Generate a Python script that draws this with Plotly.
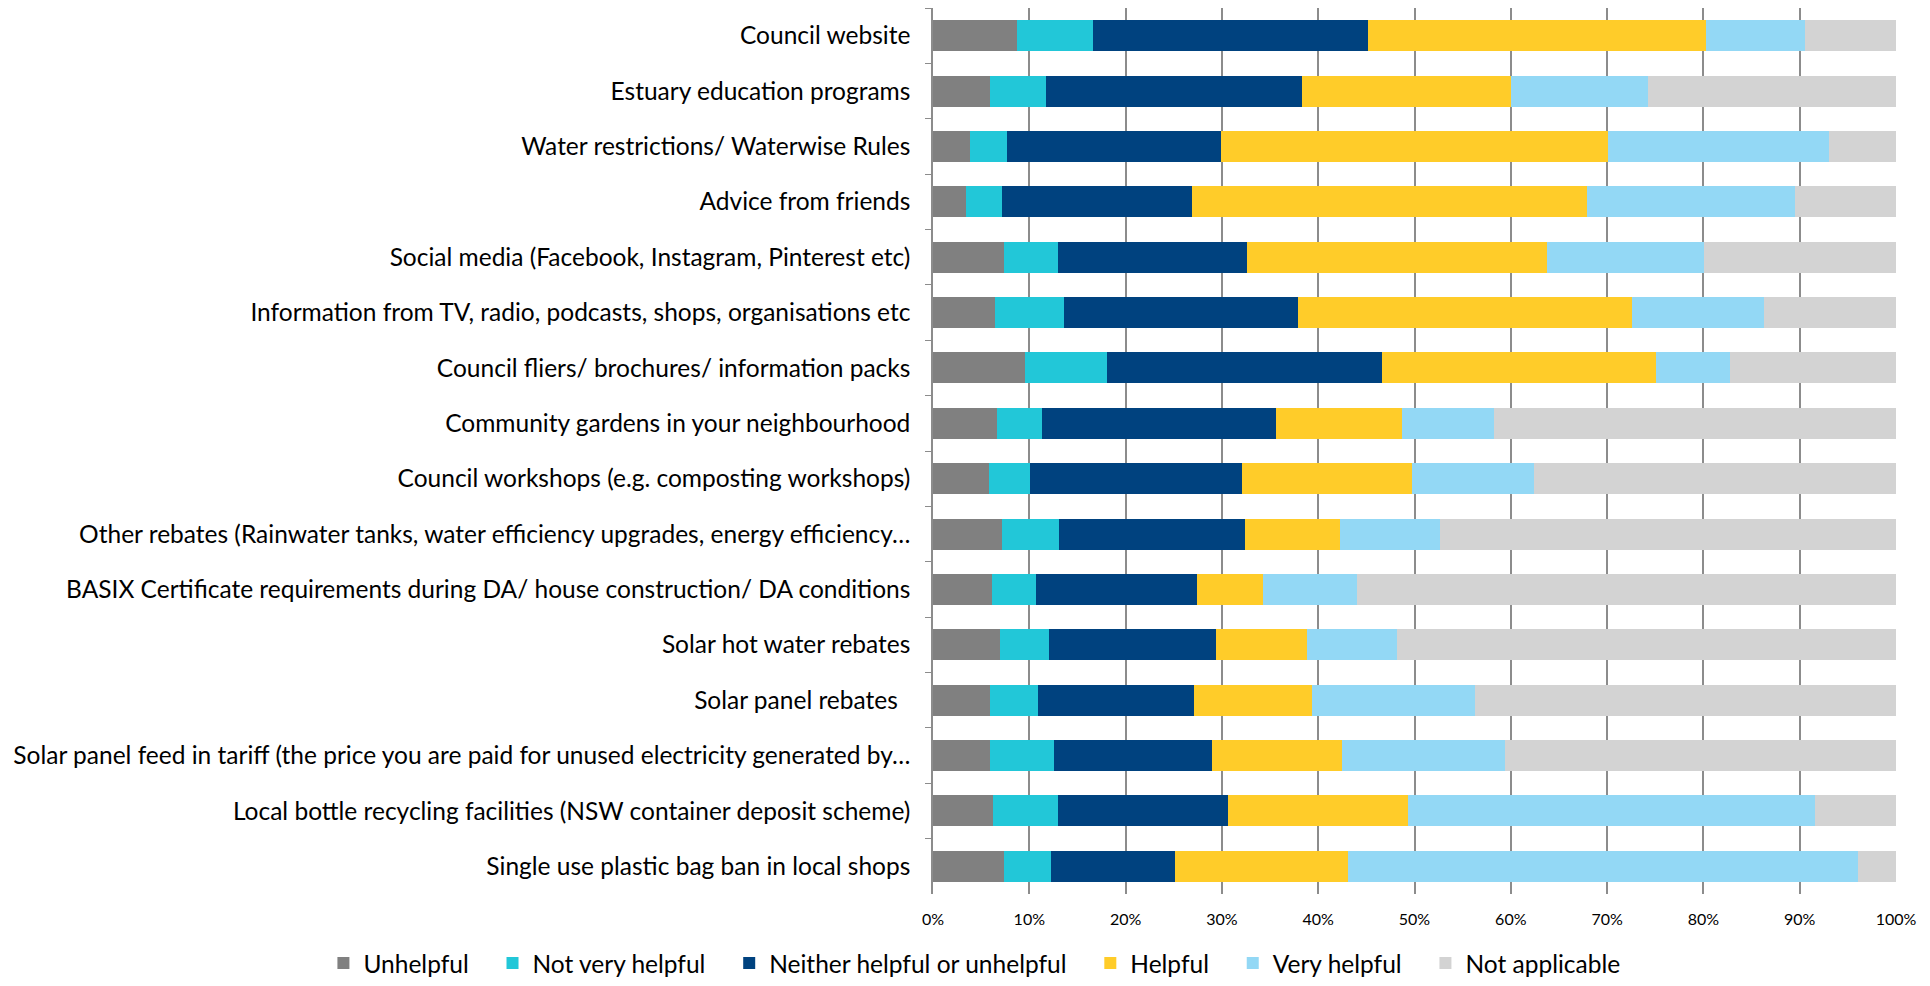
import plotly.graph_objects as go

categories = [
    "Council website",
    "Estuary education programs",
    "Water restrictions/ Waterwise Rules",
    "Advice from friends",
    "Social media (Facebook, Instagram, Pinterest etc)",
    "Information from TV, radio, podcasts, shops, organisations etc",
    "Council fliers/ brochures/ information packs",
    "Community gardens in your neighbourhood",
    "Council workshops (e.g. composting workshops)",
    "Other rebates (Rainwater tanks, water efficiency upgrades, energy efficiency…",
    "BASIX Certificate requirements during DA/ house construction/ DA conditions",
    "Solar hot water rebates",
    "Solar panel rebates\u00a0\u00a0",
    "Solar panel feed in tariff (the price you are paid for unused electricity generated by…",
    "Local bottle recycling facilities (NSW container deposit scheme)",
    "Single use plastic bag ban in local shops",
]

unhelpful = [8.7, 5.9, 3.8, 3.4, 7.4, 6.4, 9.6, 6.6, 5.8, 7.2, 6.1, 7.0, 5.9, 5.9, 6.2, 7.4]
not_very_helpful = [7.9, 5.8, 3.9, 3.8, 5.6, 7.2, 8.5, 4.7, 4.3, 5.9, 4.6, 5.0, 5.0, 6.7, 6.8, 4.9]
neither = [28.6, 26.6, 22.2, 19.7, 19.6, 24.3, 28.5, 24.3, 22.0, 19.3, 16.7, 17.4, 16.2, 16.4, 17.6, 12.8]
helpful = [35.1, 21.7, 40.2, 41.0, 31.2, 34.7, 28.5, 13.1, 17.6, 9.9, 6.9, 9.4, 12.3, 13.5, 18.7, 18.0]
very_helpful = [10.2, 14.2, 22.9, 21.6, 16.3, 13.7, 7.7, 9.6, 12.7, 10.3, 9.7, 9.4, 16.9, 16.9, 42.3, 53.0]
not_applicable = [9.5, 25.8, 7.0, 10.5, 19.9, 13.7, 17.2, 41.7, 37.6, 47.4, 56.0, 51.8, 43.7, 40.6, 8.4, 3.9]

series_names = ["Unhelpful", "Not very helpful", "Neither helpful or unhelpful",
                "Helpful", "Very helpful", "Not applicable"]
series_values = [unhelpful, not_very_helpful, neither, helpful, very_helpful, not_applicable]
series_colors = ["#808080", "#22C7D8", "#00427F", "#FFCC29", "#93D8F5", "#D3D3D3"]

x_ticks = [0, 10, 20, 30, 40, 50, 60, 70, 80, 90, 100]
x_tick_labels = [f"{v}%" for v in x_ticks]

fig = go.Figure()
for name, vals, color in zip(series_names, series_values, series_colors):
    fig.add_trace(go.Bar(
        y=categories, x=vals, name=name + "\u00a0" * 3, orientation="h",
        marker=dict(color=color, line=dict(width=0)),
    ))

fig.update_layout(
    barmode="stack",
    barnorm="percent",
    bargap=0.44,
    plot_bgcolor="white",
    paper_bgcolor="white",
    font=dict(family="Lato", color="black", size=24.5),
    margin=dict(l=925, r=26, t=0, b=84, autoexpand=False),
    showlegend=True,
    legend=dict(
        orientation="h", xref="paper", yref="paper",
        x=-0.633, xanchor="left", y=-0.078, yanchor="middle",
        bgcolor="rgba(0,0,0,0)",
        font=dict(size=24.5), traceorder="normal",
    ),
    xaxis=dict(
        range=[0, 100], tickvals=x_ticks, ticktext=x_tick_labels,
        showgrid=True, gridcolor="#8C8C8C", gridwidth=1.5,
        zeroline=False, showline=False, tickfont=dict(size=16),
        ticks="", fixedrange=True, ticklabelstandoff=14,
    ),
    yaxis=dict(
        autorange="reversed", showline=True, linecolor="#8C8C8C", linewidth=1.5,
        ticks="outside", tickson="boundaries", ticklen=6, tickcolor="#8C8C8C",
        tickfont=dict(size=24.5), ticklabelstandoff=16,
    ),
)

fig.write_html("out.html")
